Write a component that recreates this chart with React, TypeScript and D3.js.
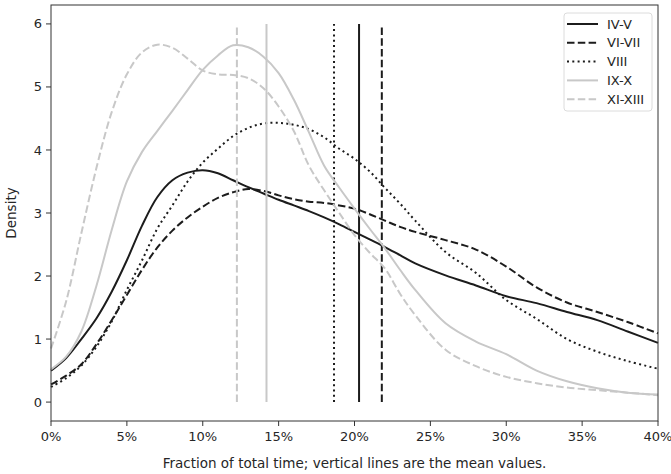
import React from 'react';
import * as d3 from 'd3';

// x positions (fraction of total time, in %)
const pct = [0, 1, 2, 3, 4, 5, 6, 7, 8, 9, 10, 11, 12, 13, 14, 15, 16, 17, 18, 19, 20, 21, 22, 23, 24, 26, 28, 30, 32, 34, 36, 38, 40];

const ivV = [0.5, 0.7, 1.0, 1.33, 1.75, 2.25, 2.8, 3.25, 3.52, 3.64, 3.68, 3.63, 3.52, 3.41, 3.31, 3.21, 3.12, 3.03, 2.93, 2.82, 2.7, 2.58, 2.46, 2.33, 2.2, 2.01, 1.85, 1.68, 1.57, 1.43, 1.3, 1.12, 0.94];
const viVii = [0.28, 0.42, 0.6, 0.92, 1.3, 1.7, 2.1, 2.45, 2.72, 2.93, 3.1, 3.24, 3.33, 3.38, 3.35, 3.28, 3.22, 3.18, 3.16, 3.12, 3.07, 2.98, 2.88, 2.78, 2.7, 2.57, 2.42, 2.15, 1.82, 1.58, 1.43, 1.27, 1.09];
const viii = [0.24, 0.38, 0.58, 0.88, 1.28, 1.78, 2.25, 2.75, 3.12, 3.5, 3.8, 4.02, 4.22, 4.35, 4.42, 4.43, 4.4, 4.33, 4.2, 4.02, 3.86, 3.66, 3.4, 3.15, 2.88, 2.38, 2.05, 1.62, 1.32, 1.0, 0.8, 0.65, 0.53];
const ixX = [0.52, 0.72, 1.12, 1.85, 2.73, 3.5, 3.97, 4.3, 4.62, 4.95, 5.27, 5.5, 5.66, 5.63, 5.48, 5.22, 4.8, 4.28, 3.75, 3.4, 3.07, 2.75, 2.44, 2.1, 1.78, 1.25, 0.96, 0.76, 0.5, 0.33, 0.22, 0.15, 0.12];
const xiXiii = [0.85, 1.6, 2.68, 3.72, 4.6, 5.2, 5.55, 5.67, 5.62, 5.45, 5.26, 5.2, 5.19, 5.14, 4.98, 4.69, 4.3, 3.75, 3.36, 3.0, 2.65, 2.37, 2.12, 1.72, 1.38, 0.83, 0.57, 0.4, 0.3, 0.23, 0.19, 0.15, 0.11];

const seriesNames = ['IV-V', 'VI-VII', 'VIII', 'IX-X', 'XI-XIII'];
const seriesValues = [ivV, viVii, viii, ixX, xiXiii];
const meanValues = [20.3, 21.8, 18.65, 14.2, 12.25];

const xTicks = [0, 5, 10, 15, 20, 25, 30, 35, 40];
const yTicks = [0, 1, 2, 3, 4, 5, 6];

const styles = [
  { color: '#1c1c1c', dash: null },
  { color: '#1c1c1c', dash: '7.5,3.3' },
  { color: '#1c1c1c', dash: '2,3.3' },
  { color: '#c8c8c8', dash: null },
  { color: '#c8c8c8', dash: '7.5,3.3' },
];

const W = 671;
const H = 474;
const margin = { left: 51, right: 13, top: 5, bottom: 53 };
const font = 'DejaVu Sans, sans-serif';

export default function App() {
  const x = d3.scaleLinear().domain([0, 40]).range([margin.left, W - margin.right]);
  const y = d3.scaleLinear().domain([-0.3, 6.3]).range([H - margin.bottom, margin.top]);

  const line = d3.line<number>()
    .x((_, i) => x(pct[i]))
    .y(d => y(d))
    .curve(d3.curveCatmullRom.alpha(0.5));

  const legendX = 564;
  const legendY = 13;

  return (
    <svg width={W} height={H} style={{ position: 'absolute', left: 0, top: 0, background: '#fff' }} fontFamily={font}>
      {/* curves + mean lines */}
      {seriesValues.map((vals, i) => (
        <g key={seriesNames[i]}>
          <path d={line(vals) || ''} fill="none" stroke={styles[i].color} strokeWidth={2}
            strokeDasharray={styles[i].dash || undefined} />
          <line x1={x(meanValues[i])} x2={x(meanValues[i])} y1={y(0)} y2={y(6)}
            stroke={styles[i].color} strokeWidth={2} strokeDasharray={styles[i].dash || undefined} />
        </g>
      ))}

      {/* frame */}
      <rect x={margin.left} y={margin.top} width={W - margin.left - margin.right}
        height={H - margin.top - margin.bottom} fill="none" stroke="#333" strokeWidth={1} />

      {/* y axis */}
      {yTicks.map(t => (
        <g key={'y' + t}>
          <line x1={margin.left - 5} x2={margin.left} y1={y(t)} y2={y(t)} stroke="#333" />
          <text x={margin.left - 9} y={y(t)} dy="0.35em" textAnchor="end" fontSize={13} fill="#262626">{t}</text>
        </g>
      ))}
      <text transform={`translate(16,${(margin.top + H - margin.bottom) / 2}) rotate(-90)`} textAnchor="middle"
        fontSize={13.5} fill="#262626">Density</text>

      {/* x axis */}
      {xTicks.map(t => (
        <g key={'x' + t}>
          <line x1={x(t)} x2={x(t)} y1={H - margin.bottom} y2={H - margin.bottom + 5} stroke="#333" />
          <text x={x(t)} y={H - margin.bottom + 20} textAnchor="middle" fontSize={13} fill="#262626">{t}%</text>
        </g>
      ))}
      <text x={(margin.left + W - margin.right) / 2} y={468} textAnchor="middle" fontSize={13.5} fill="#262626">
        Fraction of total time; vertical lines are the mean values.
      </text>

      {/* legend */}
      <rect x={legendX} y={legendY} width={88} height={98} rx={3} fill="#fff" fillOpacity={0.8} stroke="#dcdcdc" />
      {seriesNames.map((name, i) => (
        <g key={'l' + name} transform={`translate(${legendX}, ${legendY + 11 + i * 18.8})`}>
          <line x1={3} x2={34} y1={0} y2={0} stroke={styles[i].color} strokeWidth={2}
            strokeDasharray={styles[i].dash || undefined} />
          <text x={43} y={0} dy="0.35em" fontSize={13} fill="#262626">{name}</text>
        </g>
      ))}
    </svg>
  );
}
